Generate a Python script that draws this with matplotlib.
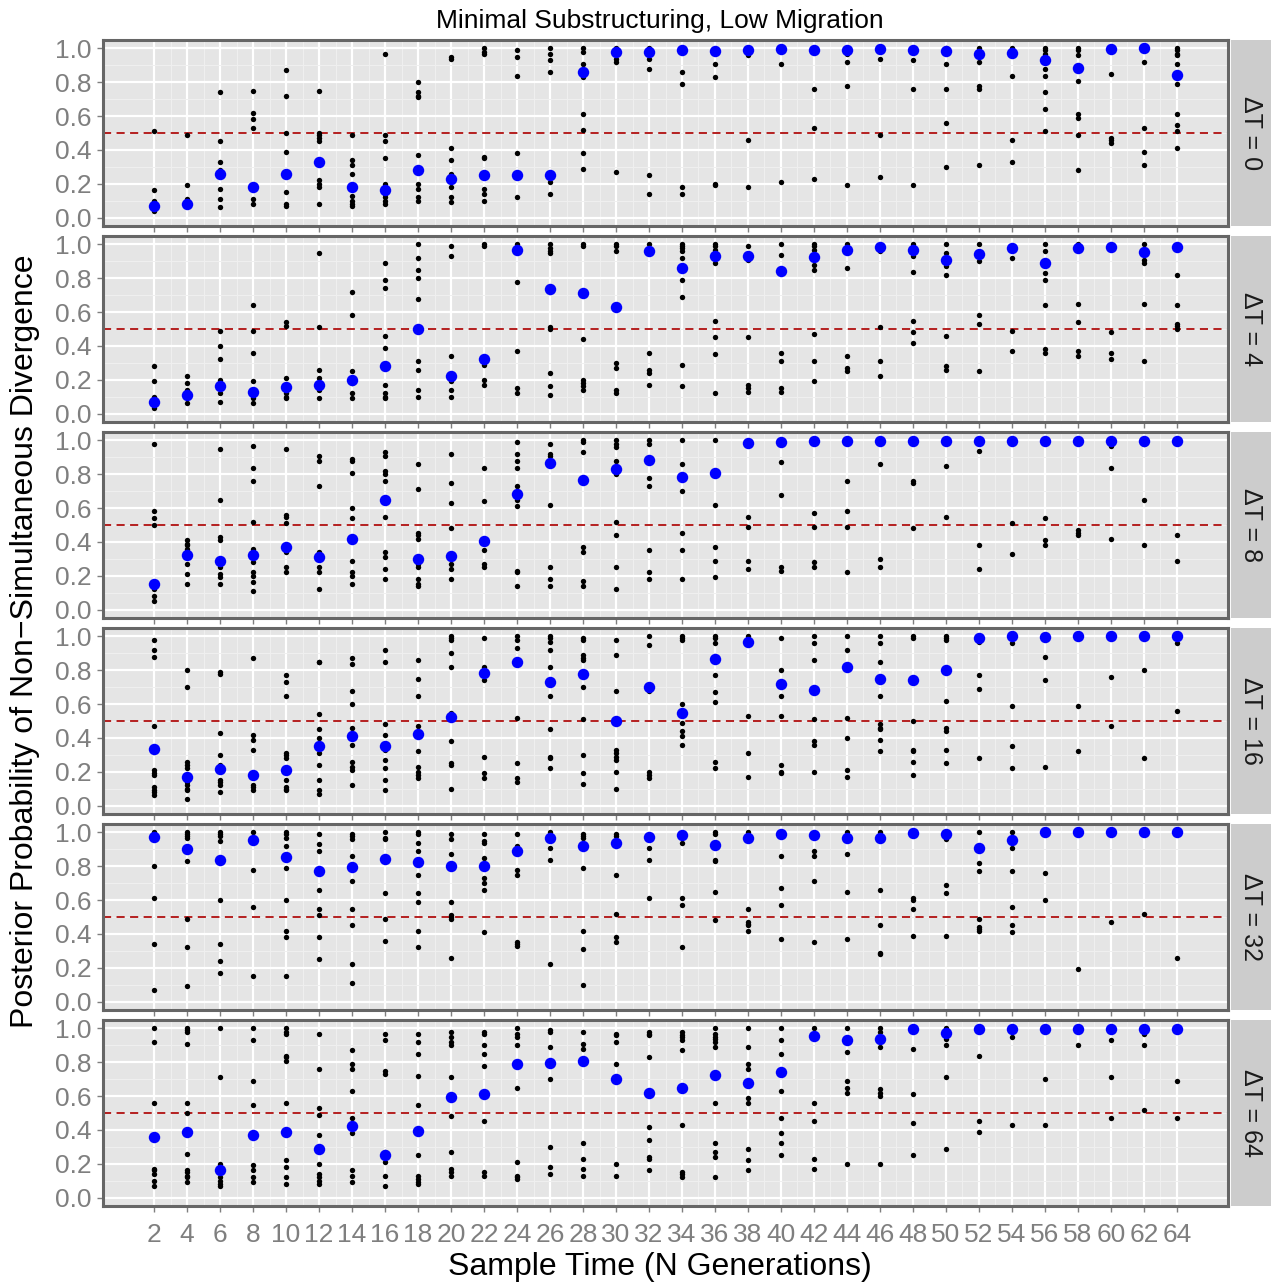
import numpy as np
import matplotlib
matplotlib.use("Agg")
import matplotlib.pyplot as plt

plt.rcParams['font.family'] = ['Liberation Sans', 'DejaVu Sans']

# sample times (N generations) on the x axis
sample_times = list(range(2, 65, 2))
delta_t = [0, 4, 8, 16, 32, 64]

# replicate posterior probabilities, one list per sample time
reps_dt0 = [
    [0.51, 0.16, 0.10, 0.06, 0.04],
    [0.49, 0.19, 0.11, 0.10, 0.08, 0.07],
    [0.74, 0.45, 0.33, 0.28, 0.25, 0.17, 0.11, 0.06],
    [0.75, 0.62, 0.58, 0.53, 0.19, 0.11, 0.08],
    [0.87, 0.72, 0.50, 0.39, 0.26, 0.15, 0.08, 0.07],
    [0.75, 0.50, 0.49, 0.47, 0.45, 0.33, 0.22, 0.20, 0.18, 0.08],
    [0.49, 0.34, 0.31, 0.26, 0.18, 0.13, 0.10, 0.08, 0.07],
    [0.97, 0.49, 0.45, 0.35, 0.20, 0.16, 0.14, 0.12, 0.10, 0.08],
    [0.80, 0.74, 0.72, 0.71, 0.37, 0.28, 0.20, 0.17, 0.12, 0.10],
    [0.95, 0.94, 0.41, 0.34, 0.26, 0.23, 0.18, 0.12, 0.09],
    [1.0, 0.98, 0.97, 0.36, 0.35, 0.25, 0.17, 0.14, 0.10],
    [0.99, 0.95, 0.84, 0.38, 0.25, 0.12],
    [1.0, 0.97, 0.93, 0.86, 0.25, 0.21, 0.14],
    [1.0, 0.98, 0.91, 0.86, 0.83, 0.61, 0.52, 0.38, 0.29],
    [1.0, 0.98, 0.94, 0.92, 0.27],
    [1.0, 0.98, 0.94, 0.88, 0.25, 0.14],
    [1.0, 0.99, 0.86, 0.79, 0.18, 0.14],
    [0.99, 0.91, 0.83, 0.20, 0.19],
    [1.0, 0.96, 0.46, 0.18],
    [1.0, 0.91, 0.21],
    [1.0, 0.76, 0.53, 0.23],
    [1.0, 0.97, 0.92, 0.78, 0.19],
    [1.0, 0.94, 0.49, 0.24],
    [1.0, 0.93, 0.76, 0.19],
    [1.0, 0.91, 0.76, 0.56, 0.30],
    [1.0, 0.97, 0.92, 0.78, 0.76, 0.31],
    [1.0, 0.98, 0.84, 0.46, 0.33],
    [1.0, 0.99, 0.97, 0.93, 0.88, 0.84, 0.74, 0.64, 0.51],
    [1.0, 0.99, 0.96, 0.89, 0.81, 0.61, 0.59, 0.49, 0.28],
    [1.0, 0.85, 0.47, 0.46, 0.44],
    [1.0, 0.92, 0.53, 0.39, 0.31],
    [1.0, 0.99, 0.97, 0.96, 0.91, 0.79, 0.61, 0.55, 0.51, 0.41],
]
reps_dt4 = [
    [0.28, 0.19, 0.10, 0.07, 0.03],
    [0.22, 0.18, 0.14, 0.11, 0.06],
    [0.49, 0.40, 0.32, 0.20, 0.16, 0.12, 0.07],
    [0.64, 0.49, 0.36, 0.19, 0.13, 0.09, 0.06],
    [0.54, 0.52, 0.21, 0.16, 0.12, 0.10, 0.09],
    [0.95, 0.51, 0.26, 0.21, 0.17, 0.14, 0.09],
    [0.72, 0.58, 0.25, 0.20, 0.18, 0.12, 0.09],
    [0.89, 0.79, 0.74, 0.46, 0.39, 0.28, 0.17, 0.12, 0.10, 0.09],
    [1.0, 0.92, 0.85, 0.80, 0.68, 0.50, 0.31, 0.26, 0.14, 0.10],
    [0.99, 0.93, 0.34, 0.22, 0.19, 0.14, 0.10],
    [1.0, 0.99, 0.32, 0.29, 0.20, 0.17],
    [1.0, 0.97, 0.78, 0.37, 0.15, 0.12],
    [1.0, 0.98, 0.96, 0.95, 0.74, 0.51, 0.50, 0.24, 0.16, 0.11],
    [1.0, 0.99, 0.71, 0.44, 0.20, 0.18, 0.16, 0.14],
    [1.0, 0.99, 0.96, 0.63, 0.30, 0.27, 0.14, 0.12],
    [1.0, 0.96, 0.36, 0.26, 0.24, 0.17],
    [1.0, 0.99, 0.98, 0.96, 0.92, 0.86, 0.79, 0.69, 0.29, 0.16],
    [1.0, 0.99, 0.97, 0.93, 0.89, 0.55, 0.45, 0.35, 0.12],
    [0.99, 0.93, 0.91, 0.45, 0.17, 0.15, 0.13],
    [1.0, 0.94, 0.84, 0.36, 0.31, 0.15, 0.13],
    [1.0, 0.99, 0.97, 0.93, 0.88, 0.85, 0.47, 0.31, 0.19],
    [1.0, 0.97, 0.86, 0.34, 0.27, 0.25],
    [0.99, 0.96, 0.51, 0.31, 0.22],
    [1.0, 0.97, 0.93, 0.84, 0.55, 0.48, 0.42],
    [1.0, 0.95, 0.91, 0.87, 0.82, 0.46, 0.28, 0.26],
    [1.0, 0.95, 0.90, 0.58, 0.53, 0.25],
    [0.99, 0.92, 0.49, 0.37],
    [1.0, 0.96, 0.89, 0.83, 0.79, 0.64, 0.38, 0.36],
    [1.0, 0.98, 0.65, 0.54, 0.37, 0.34],
    [0.99, 0.48, 0.36, 0.32],
    [1.0, 0.96, 0.91, 0.89, 0.65, 0.31],
    [0.99, 0.82, 0.64, 0.53, 0.52, 0.50],
]
reps_dt8 = [
    [0.98, 0.58, 0.54, 0.50, 0.15, 0.12, 0.08, 0.05],
    [0.41, 0.39, 0.38, 0.36, 0.32, 0.27, 0.21, 0.15],
    [0.95, 0.65, 0.43, 0.41, 0.29, 0.25, 0.21, 0.19, 0.15],
    [0.97, 0.84, 0.76, 0.52, 0.36, 0.32, 0.28, 0.22, 0.20, 0.16, 0.11],
    [0.95, 0.56, 0.55, 0.51, 0.37, 0.34, 0.25, 0.22],
    [0.91, 0.88, 0.73, 0.34, 0.31, 0.25, 0.22, 0.12],
    [0.89, 0.88, 0.81, 0.60, 0.54, 0.42, 0.29, 0.22, 0.20, 0.15],
    [0.93, 0.91, 0.82, 0.80, 0.76, 0.65, 0.55, 0.34, 0.31, 0.24, 0.18],
    [0.86, 0.71, 0.45, 0.44, 0.42, 0.30, 0.27, 0.25, 0.18, 0.15, 0.14],
    [0.92, 0.75, 0.63, 0.48, 0.32, 0.27, 0.24, 0.18],
    [0.84, 0.64, 0.41, 0.35, 0.27, 0.25],
    [0.99, 0.92, 0.88, 0.84, 0.73, 0.69, 0.65, 0.61, 0.23, 0.22, 0.14],
    [0.98, 0.92, 0.91, 0.86, 0.62, 0.25, 0.18, 0.14],
    [1.0, 0.99, 0.93, 0.76, 0.37, 0.34, 0.17, 0.14],
    [1.0, 0.98, 0.96, 0.88, 0.83, 0.80, 0.52, 0.44, 0.25, 0.12],
    [1.0, 0.98, 0.89, 0.78, 0.73, 0.35, 0.22, 0.18],
    [1.0, 0.86, 0.78, 0.70, 0.45, 0.35, 0.18],
    [1.0, 0.80, 0.62, 0.37, 0.29, 0.19],
    [0.99, 0.55, 0.49, 0.29, 0.24],
    [1.0, 0.87, 0.68, 0.25, 0.23],
    [1.0, 0.57, 0.49, 0.28, 0.25],
    [1.0, 0.76, 0.58, 0.49, 0.22],
    [1.0, 0.86, 0.30, 0.25],
    [1.0, 0.76, 0.75, 0.48],
    [1.0, 0.85, 0.55],
    [1.0, 0.94, 0.38, 0.24],
    [1.0, 0.51, 0.33],
    [1.0, 0.54, 0.41, 0.38],
    [1.0, 0.47, 0.45, 0.44],
    [1.0, 0.97, 0.84, 0.42],
    [1.0, 0.98, 0.65, 0.38],
    [1.0, 0.44, 0.29],
]
reps_dt16 = [
    [0.98, 0.92, 0.88, 0.47, 0.34, 0.21, 0.19, 0.18, 0.11, 0.09, 0.08, 0.06],
    [0.80, 0.70, 0.26, 0.24, 0.22, 0.17, 0.14, 0.12, 0.10, 0.09, 0.04],
    [0.79, 0.78, 0.43, 0.30, 0.24, 0.22, 0.15, 0.14, 0.12, 0.08],
    [0.87, 0.42, 0.39, 0.33, 0.18, 0.12, 0.11, 0.09],
    [0.77, 0.73, 0.65, 0.31, 0.30, 0.28, 0.21, 0.15, 0.11, 0.10, 0.09],
    [0.85, 0.85, 0.54, 0.45, 0.40, 0.35, 0.31, 0.24, 0.15, 0.09, 0.07],
    [0.87, 0.84, 0.68, 0.60, 0.46, 0.41, 0.36, 0.26, 0.23, 0.21, 0.12],
    [0.92, 0.85, 0.48, 0.42, 0.35, 0.33, 0.27, 0.22, 0.15, 0.09],
    [0.86, 0.75, 0.65, 0.47, 0.43, 0.32, 0.23, 0.20, 0.18, 0.16],
    [1.0, 0.99, 0.98, 0.90, 0.82, 0.55, 0.53, 0.38, 0.25, 0.24, 0.10],
    [0.99, 0.82, 0.78, 0.74, 0.29, 0.19, 0.16],
    [1.0, 0.98, 0.93, 0.85, 0.52, 0.25, 0.16, 0.14],
    [1.0, 0.99, 0.97, 0.92, 0.82, 0.73, 0.65, 0.45, 0.29, 0.28, 0.22],
    [0.99, 0.98, 0.89, 0.87, 0.86, 0.78, 0.70, 0.51, 0.30, 0.19, 0.13],
    [0.98, 0.89, 0.68, 0.50, 0.33, 0.31, 0.29, 0.27, 0.20, 0.10],
    [1.0, 0.95, 0.70, 0.68, 0.20, 0.18, 0.16],
    [1.0, 0.99, 0.98, 0.60, 0.55, 0.49, 0.44, 0.41, 0.36],
    [1.0, 0.99, 0.96, 0.87, 0.77, 0.67, 0.61, 0.26, 0.22],
    [1.0, 0.96, 0.53, 0.31, 0.17],
    [0.99, 0.80, 0.72, 0.65, 0.53, 0.24, 0.20, 0.19],
    [1.0, 0.96, 0.86, 0.68, 0.51, 0.38, 0.36, 0.20],
    [1.0, 0.92, 0.82, 0.52, 0.40, 0.21, 0.17],
    [1.0, 0.96, 0.85, 0.75, 0.65, 0.48, 0.46, 0.45, 0.39, 0.32],
    [1.0, 0.99, 0.74, 0.50, 0.33, 0.32, 0.26, 0.18],
    [1.0, 0.99, 0.98, 0.80, 0.62, 0.46, 0.44, 0.33, 0.25],
    [0.99, 0.97, 0.77, 0.69, 0.28],
    [1.0, 0.96, 0.59, 0.35, 0.22],
    [0.99, 0.88, 0.74, 0.23],
    [1.0, 0.59, 0.32],
    [1.0, 0.76, 0.47],
    [1.0, 0.80, 0.28],
    [1.0, 0.96, 0.56],
]
reps_dt32 = [
    [1.0, 0.98, 0.80, 0.61, 0.34, 0.07],
    [1.0, 0.99, 0.98, 0.97, 0.90, 0.83, 0.49, 0.32, 0.09],
    [1.0, 0.99, 0.98, 0.95, 0.84, 0.60, 0.34, 0.24, 0.17],
    [1.0, 0.96, 0.78, 0.56, 0.15],
    [1.0, 0.99, 0.97, 0.92, 0.85, 0.79, 0.60, 0.42, 0.38, 0.15],
    [0.99, 0.93, 0.89, 0.77, 0.66, 0.55, 0.51, 0.38, 0.25],
    [0.99, 0.98, 0.96, 0.86, 0.79, 0.71, 0.55, 0.45, 0.22, 0.11],
    [1.0, 0.97, 0.96, 0.85, 0.64, 0.49, 0.36],
    [1.0, 0.99, 0.94, 0.89, 0.82, 0.75, 0.64, 0.59, 0.42, 0.32],
    [0.99, 0.96, 0.87, 0.80, 0.59, 0.51, 0.50, 0.49, 0.26],
    [0.99, 0.95, 0.94, 0.85, 0.80, 0.73, 0.70, 0.66, 0.41],
    [0.99, 0.92, 0.89, 0.78, 0.75, 0.35, 0.34, 0.33],
    [1.0, 0.96, 0.91, 0.84, 0.22],
    [0.99, 0.98, 0.97, 0.92, 0.79, 0.42, 0.31, 0.10],
    [0.99, 0.98, 0.94, 0.75, 0.52, 0.38, 0.35],
    [0.98, 0.91, 0.84, 0.61],
    [0.99, 0.94, 0.61, 0.57, 0.32],
    [1.0, 0.99, 0.93, 0.84, 0.83, 0.65, 0.48],
    [1.0, 0.97, 0.55, 0.47, 0.46, 0.45, 0.42],
    [0.99, 0.86, 0.67, 0.57, 0.37],
    [0.98, 0.89, 0.86, 0.71, 0.35],
    [1.0, 0.97, 0.87, 0.65, 0.37],
    [1.0, 0.97, 0.66, 0.45, 0.29, 0.28],
    [0.99, 0.61, 0.60, 0.55, 0.39],
    [0.99, 0.96, 0.69, 0.64, 0.39],
    [1.0, 0.91, 0.82, 0.77, 0.49, 0.44, 0.43, 0.42],
    [1.0, 0.95, 0.91, 0.77, 0.56, 0.45, 0.41],
    [1.0, 0.76, 0.60],
    [1.0, 0.19],
    [1.0, 0.47],
    [1.0, 0.52],
    [1.0, 0.26],
]
reps_dt64 = [
    [1.0, 0.92, 0.56, 0.36, 0.17, 0.16, 0.14, 0.10, 0.07],
    [1.0, 0.99, 0.98, 0.91, 0.56, 0.50, 0.38, 0.26, 0.16, 0.15, 0.13, 0.12, 0.09],
    [1.0, 0.71, 0.20, 0.16, 0.12, 0.10, 0.08, 0.07],
    [1.0, 0.93, 0.69, 0.55, 0.37, 0.19, 0.16, 0.12, 0.09],
    [1.0, 0.98, 0.97, 0.84, 0.83, 0.81, 0.56, 0.39, 0.22, 0.18, 0.12, 0.08],
    [0.97, 0.76, 0.53, 0.49, 0.37, 0.28, 0.20, 0.14, 0.12, 0.10, 0.08],
    [0.87, 0.79, 0.76, 0.63, 0.47, 0.43, 0.38, 0.16, 0.13, 0.09],
    [0.97, 0.93, 0.75, 0.73, 0.27, 0.25, 0.21, 0.13, 0.07],
    [0.97, 0.92, 0.85, 0.72, 0.55, 0.40, 0.25, 0.13, 0.11, 0.09, 0.08],
    [0.98, 0.95, 0.92, 0.90, 0.71, 0.60, 0.48, 0.27, 0.17, 0.15, 0.13],
    [0.98, 0.97, 0.90, 0.85, 0.78, 0.61, 0.45, 0.15, 0.13],
    [1.0, 0.97, 0.95, 0.90, 0.79, 0.65, 0.21, 0.13, 0.12, 0.11],
    [0.99, 0.98, 0.89, 0.79, 0.70, 0.30, 0.18, 0.14],
    [0.98, 0.91, 0.88, 0.81, 0.32, 0.23, 0.17, 0.13],
    [0.97, 0.96, 0.92, 0.79, 0.70, 0.20, 0.13],
    [0.98, 0.97, 0.96, 0.83, 0.62, 0.42, 0.34, 0.24, 0.23, 0.16],
    [0.98, 0.96, 0.95, 0.93, 0.87, 0.65, 0.43, 0.15, 0.14, 0.12],
    [1.0, 0.97, 0.95, 0.94, 0.92, 0.89, 0.73, 0.56, 0.32, 0.27, 0.24, 0.12],
    [1.0, 0.89, 0.79, 0.76, 0.67, 0.59, 0.56, 0.29, 0.22, 0.16],
    [1.0, 0.93, 0.85, 0.63, 0.47, 0.38, 0.32, 0.25],
    [1.0, 0.95, 0.56, 0.45, 0.23, 0.17],
    [1.0, 0.93, 0.86, 0.69, 0.65, 0.62, 0.20],
    [1.0, 0.98, 0.94, 0.89, 0.64, 0.62, 0.60, 0.20],
    [0.99, 0.88, 0.61, 0.44, 0.25],
    [1.0, 0.98, 0.94, 0.90, 0.71, 0.29],
    [0.99, 0.84, 0.45, 0.39],
    [0.99, 0.95, 0.43],
    [0.99, 0.70, 0.43],
    [0.99, 0.90],
    [0.99, 0.93, 0.71, 0.47],
    [1.0, 0.97, 0.90, 0.52],
    [0.99, 0.69, 0.47],
]

# summary estimate per sample time (blue points)
summary_dt0 = [0.07, 0.08, 0.26, 0.18, 0.26, 0.33, 0.18, 0.16, 0.28, 0.23, 0.25, 0.25,
               0.25, 0.86, 0.98, 0.98, 0.99, 0.985, 0.99, 0.995, 0.99, 0.99, 0.995, 0.99,
               0.985, 0.97, 0.975, 0.93, 0.885, 0.995, 1.0, 0.845]
summary_dt4 = [0.07, 0.11, 0.16, 0.13, 0.155, 0.17, 0.20, 0.28, 0.50, 0.22, 0.32, 0.97,
               0.735, 0.71, 0.63, 0.96, 0.86, 0.93, 0.93, 0.845, 0.925, 0.97, 0.985, 0.965,
               0.91, 0.945, 0.98, 0.89, 0.98, 0.985, 0.955, 0.985]
summary_dt8 = [0.15, 0.32, 0.29, 0.32, 0.37, 0.31, 0.415, 0.65, 0.30, 0.315, 0.405, 0.685,
               0.865, 0.765, 0.83, 0.885, 0.785, 0.805, 0.985, 0.99, 0.998, 0.998, 0.998, 0.998,
               0.998, 0.998, 0.998, 0.998, 0.998, 0.998, 0.998, 0.998]
summary_dt16 = [0.335, 0.17, 0.215, 0.18, 0.21, 0.355, 0.41, 0.35, 0.425, 0.525, 0.785, 0.85,
                0.73, 0.78, 0.50, 0.70, 0.55, 0.865, 0.965, 0.72, 0.685, 0.82, 0.75, 0.745,
                0.80, 0.99, 1.0, 0.994, 1.0, 1.0, 1.0, 1.0]
summary_dt32 = [0.975, 0.90, 0.84, 0.955, 0.855, 0.775, 0.795, 0.845, 0.825, 0.80, 0.80, 0.89,
                0.965, 0.92, 0.94, 0.975, 0.985, 0.925, 0.97, 0.99, 0.985, 0.97, 0.97, 0.994,
                0.99, 0.91, 0.955, 1.0, 1.0, 1.0, 1.0, 1.0]
summary_dt64 = [0.36, 0.385, 0.16, 0.37, 0.39, 0.285, 0.425, 0.25, 0.395, 0.595, 0.615, 0.79,
                0.795, 0.81, 0.70, 0.62, 0.65, 0.725, 0.675, 0.745, 0.955, 0.93, 0.935, 0.994,
                0.975, 0.994, 0.994, 0.994, 0.994, 0.994, 0.995, 0.994]

replicates = [reps_dt0, reps_dt4, reps_dt8, reps_dt16, reps_dt32, reps_dt64]
summaries = [summary_dt0, summary_dt4, summary_dt8, summary_dt16, summary_dt32, summary_dt64]

W, H = 1274, 1286
fig = plt.figure(figsize=(W / 100, H / 100), dpi=100)

panel_left, panel_right = 103, 1228
panel_tops = [40, 236, 432, 628, 824, 1020]
panel_h = 186
grey_txt = '#7F7F7F'

for i, (dt, reps, summ) in enumerate(zip(delta_t, replicates, summaries)):
    top = panel_tops[i]
    ax = fig.add_axes([panel_left / W, 1 - (top + panel_h) / H,
                       (panel_right - panel_left) / W, panel_h / H])
    ax.set_facecolor('#E5E5E5')
    ax.set_axisbelow(True)

    xs = np.concatenate([[t] * len(r) for t, r in zip(sample_times, reps)])
    ys = np.concatenate(reps)
    ax.scatter(xs, ys, s=15, color='black', linewidths=0, zorder=3)
    ax.scatter(sample_times, summ, s=68, color='blue', linewidths=0, zorder=4)
    ax.axhline(0.5, color='#B01010', lw=1.3, ls=(0, (4.5, 3)), zorder=2)

    ax.set_xlim(-1.1, 67.1)
    ax.set_ylim(-0.05, 1.05)
    ax.set_xticks(sample_times)
    ax.set_xticks(range(3, 64, 2), minor=True)
    ax.set_yticks(np.arange(0, 1.01, 0.2))
    ax.set_yticks(np.arange(0.1, 1.0, 0.2), minor=True)
    ax.grid(which='major', color='white', lw=1.6)
    ax.grid(which='minor', color='#F0F0F0', lw=0.7)
    ax.yaxis.set_major_formatter(matplotlib.ticker.FormatStrFormatter('%.1f'))
    ax.tick_params(which='major', length=4, width=1, color=grey_txt,
                   labelcolor=grey_txt, labelsize=19)
    ax.tick_params(axis='y', pad=4)
    ax.tick_params(axis='x', pad=8)
    ax.tick_params(which='minor', length=0)
    if i < len(delta_t) - 1:
        ax.tick_params(axis='x', labelbottom=False)
    for sp in ax.spines.values():
        sp.set_color('#666666')
        sp.set_linewidth(2.2)

    # facet strip on the right
    sax = fig.add_axes([1231 / W, 1 - (top + panel_h) / H, 40 / W, panel_h / H])
    sax.set_facecolor('#CCCCCC')
    sax.set_xticks([])
    sax.set_yticks([])
    for sp in sax.spines.values():
        sp.set_visible(False)
    sax.text(0.5, 0.5, f'ΔT = {dt}', rotation=-90, ha='center', va='center',
             fontsize=18, color='#1A1A1A', transform=sax.transAxes)

fig.text(0.518, 1 - 21 / H, 'Minimal Substructuring, Low Migration',
         ha='center', va='center', fontsize=19)
fig.text(0.518, 1 - 1267 / H, 'Sample Time (N Generations)',
         ha='center', va='center', fontsize=23)
fig.text(25 / W, 1 - 641 / H, 'Posterior Probability of Non\u2212Simultaneous Divergence',
         ha='center', va='center', rotation=90, fontsize=23)

fig.savefig('out.png', dpi=100)
